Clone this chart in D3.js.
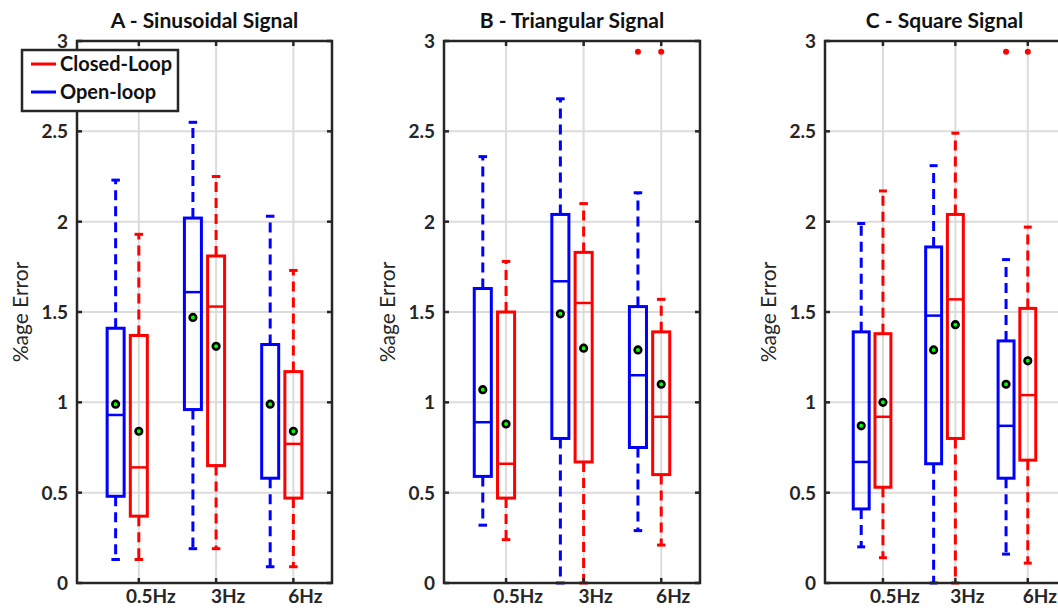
<!DOCTYPE html>
<html>
<head>
<meta charset="utf-8">
<script src="https://cdn.jsdelivr.net/npm/d3@7"></script>
<style>
  body { margin: 0; background: #fff; }
  svg { display: block; font-family: Lato, "Open Sans", sans-serif; }
</style>
</head>
<body>
<div id="chart"></div>
<script>
// frequency groups on the x axis
var groups = ["0.5Hz", "3Hz", "6Hz"]
var yTicks = [0, 0.5, 1, 1.5, 2, 2.5, 3]

// each row: [whisker low, q1, median, q3, whisker high, mean]
var sineOpen   = [[0.13, 0.48, 0.93, 1.41, 2.23, 0.99], [0.19, 0.96, 1.61, 2.02, 2.55, 1.47], [0.09, 0.58, 1.32, 1.32, 2.03, 0.99]]
var sineClosed = [[0.13, 0.37, 0.64, 1.37, 1.93, 0.84], [0.19, 0.65, 1.53, 1.81, 2.25, 1.31], [0.09, 0.47, 0.77, 1.17, 1.73, 0.84]]
var triOpen    = [[0.32, 0.59, 0.89, 1.63, 2.36, 1.07], [0.00, 0.80, 1.67, 2.04, 2.68, 1.49], [0.29, 0.75, 1.15, 1.53, 2.16, 1.29]]
var triClosed  = [[0.24, 0.47, 0.66, 1.50, 1.78, 0.88], [0.00, 0.67, 1.55, 1.83, 2.10, 1.30], [0.21, 0.60, 0.92, 1.39, 1.57, 1.10]]
var sqOpen     = [[0.20, 0.41, 0.67, 1.39, 1.99, 0.87], [0.00, 0.66, 1.48, 1.86, 2.31, 1.29], [0.16, 0.58, 0.87, 1.34, 1.79, 1.10]]
var sqClosed   = [[0.14, 0.53, 0.92, 1.38, 2.17, 1.00], [0.00, 0.80, 1.57, 2.04, 2.49, 1.43], [0.11, 0.68, 1.04, 1.52, 1.97, 1.23]]

// outliers: [group index, series, value]
var sineOutliers = []
var triOutliers = [[2, "open", 2.94], [2, "closed", 2.94]]
var sqOutliers  = [[2, "open", 2.94], [2, "closed", 2.94]]

var panels = [
  {title: "A - Sinusoidal Signal", open: sineOpen, closed: sineClosed, outliers: sineOutliers, left: 77, right: 332, legend: true},
  {title: "B - Triangular Signal", open: triOpen, closed: triClosed, outliers: triOutliers, left: 444, right: 700, legend: false},
  {title: "C - Square Signal", open: sqOpen, closed: sqClosed, outliers: sqOutliers, left: 825, right: 1064, legend: false}
]

var width = 1058, height = 610
var plotTop = 41, plotBottom = 583
var axisColor = "#262626"
var colors = {open: "#0000ff", closed: "#ff0000"}

var svg = d3.select("#chart").append("svg")
  .attr("width", width)
  .attr("height", height)

var y = d3.scaleLinear().domain([0, 3]).range([plotBottom, plotTop])

panels.forEach(function(p) {
  var x = d3.scaleLinear().domain([0.5, 3.8]).range([p.left, p.right])
  var g = svg.append("g")
  var tickPos = groups.map(function(d, i) { return i + 1.3 })

  // grid
  g.selectAll(".hgrid").data(yTicks).enter().append("line")
    .attr("x1", p.left).attr("x2", p.right)
    .attr("y1", d => y(d)).attr("y2", d => y(d))
    .attr("stroke", "#dcdcdc").attr("stroke-width", 2)
  g.selectAll(".vgrid").data(tickPos).enter().append("line")
    .attr("x1", d => x(d)).attr("x2", d => x(d))
    .attr("y1", plotTop).attr("y2", plotBottom)
    .attr("stroke", "#dcdcdc").attr("stroke-width", 2)

  // boxes
  var boxW = x(0.22) - x(0)
  var capW = boxW / 2
  var series = [["open", p.open, 1], ["closed", p.closed, 1.3]]
  series.forEach(function(s) {
    var key = s[0], rows = s[1], off = s[2]
    var col = colors[key]
    var bg = g.append("g")
    rows.forEach(function(r, i) {
      var cx = x(i + off)
      // whiskers
      bg.append("line").attr("x1", cx).attr("x2", cx).attr("y1", y(r[3])).attr("y2", y(r[4]))
        .attr("stroke", col).attr("stroke-width", 3).attr("stroke-dasharray", "10,6")
      bg.append("line").attr("x1", cx).attr("x2", cx).attr("y1", y(r[1])).attr("y2", y(r[0]))
        .attr("stroke", col).attr("stroke-width", 3).attr("stroke-dasharray", "10,6")
      // caps
      bg.append("line").attr("x1", cx - capW / 2).attr("x2", cx + capW / 2).attr("y1", y(r[4])).attr("y2", y(r[4]))
        .attr("stroke", col).attr("stroke-width", 3)
      bg.append("line").attr("x1", cx - capW / 2).attr("x2", cx + capW / 2).attr("y1", y(r[0])).attr("y2", y(r[0]))
        .attr("stroke", col).attr("stroke-width", 3)
      // box
      bg.append("rect").attr("x", cx - boxW / 2).attr("width", boxW)
        .attr("y", y(r[3])).attr("height", y(r[1]) - y(r[3]))
        .attr("fill", "none").attr("stroke", col).attr("stroke-width", 3)
      // median
      bg.append("line").attr("x1", cx - boxW / 2).attr("x2", cx + boxW / 2).attr("y1", y(r[2])).attr("y2", y(r[2]))
        .attr("stroke", col).attr("stroke-width", 2.5)
    })
  })

  // outliers (drawn in red)
  g.selectAll(".outlier").data(p.outliers).enter().append("circle")
    .attr("cx", d => x(d[0] + (d[1] == "open" ? 1 : 1.3)))
    .attr("cy", d => y(d[2]))
    .attr("r", 3).attr("fill", "#ff0000")

  // means
  series.forEach(function(s) {
    g.selectAll(".mean-" + s[0]).data(s[1]).enter().append("circle")
      .attr("cx", (d, i) => x(i + s[2]))
      .attr("cy", d => y(d[5]))
      .attr("r", 3.3).attr("fill", "#00ff00")
      .attr("stroke", "black").attr("stroke-width", 2.6)
  })

  // axes box
  g.append("rect").attr("x", p.left).attr("y", plotTop)
    .attr("width", p.right - p.left).attr("height", plotBottom - plotTop)
    .attr("fill", "none").attr("stroke", axisColor).attr("stroke-width", 2.5)

  // inner ticks
  g.selectAll(".ytl").data(yTicks).enter().append("line")
    .attr("x1", p.left).attr("x2", p.left + 5).attr("y1", d => y(d)).attr("y2", d => y(d))
    .attr("stroke", axisColor).attr("stroke-width", 2.5)
  g.selectAll(".ytr").data(yTicks).enter().append("line")
    .attr("x1", p.right).attr("x2", p.right - 5).attr("y1", d => y(d)).attr("y2", d => y(d))
    .attr("stroke", axisColor).attr("stroke-width", 2.5)
  g.selectAll(".xtt").data(tickPos).enter().append("line")
    .attr("x1", d => x(d)).attr("x2", d => x(d)).attr("y1", plotTop).attr("y2", plotTop + 5)
    .attr("stroke", axisColor).attr("stroke-width", 2.5)
  g.selectAll(".xtb").data(tickPos).enter().append("line")
    .attr("x1", d => x(d)).attr("x2", d => x(d)).attr("y1", plotBottom).attr("y2", plotBottom - 5)
    .attr("stroke", axisColor).attr("stroke-width", 2.5)

  // tick labels
  g.selectAll(".ylab").data(yTicks).enter().append("text")
    .attr("x", p.left - 9).attr("y", d => y(d))
    .attr("dy", "0.36em").attr("text-anchor", "end")
    .attr("font-size", 19).attr("font-weight", "bold").attr("fill", axisColor)
    .text(d => d)
  g.selectAll(".xlab").data(groups).enter().append("text")
    .attr("x", (d, i) => x(i + 1.3) + 12).attr("y", 603)
    .attr("text-anchor", "middle")
    .attr("font-size", 19).attr("font-weight", "bold").attr("fill", axisColor)
    .text(d => d)

  // title
  g.append("text").attr("x", (p.left + p.right) / 2).attr("y", 28)
    .attr("text-anchor", "middle").attr("font-size", 21).attr("font-weight", "bold").attr("fill", "#111")
    .text(p.title)

  // y label
  g.append("text")
    .attr("transform", "translate(" + (p.left - 49) + "," + (plotTop + plotBottom) / 2 + ") rotate(-90)")
    .attr("text-anchor", "middle").attr("font-size", 21).attr("fill", axisColor)
    .text("%age Error")

  if (p.legend) {
    var lg = g.append("g")
    lg.append("rect").attr("x", 22).attr("y", 50).attr("width", 156).attr("height", 61)
      .attr("fill", "white").attr("stroke", axisColor).attr("stroke-width", 2.5)
    var items = [["Closed-Loop", colors.closed], ["Open-loop", colors.open]]
    items.forEach(function(it, i) {
      lg.append("line").attr("x1", 31).attr("x2", 56).attr("y1", 64 + i * 28).attr("y2", 64 + i * 28)
        .attr("stroke", it[1]).attr("stroke-width", 3)
      lg.append("text").attr("x", 60).attr("y", 71 + i * 28)
        .attr("font-size", 20).attr("font-weight", "bold").attr("fill", "#111")
        .text(it[0])
    })
  }
})
</script>
</body>
</html>
